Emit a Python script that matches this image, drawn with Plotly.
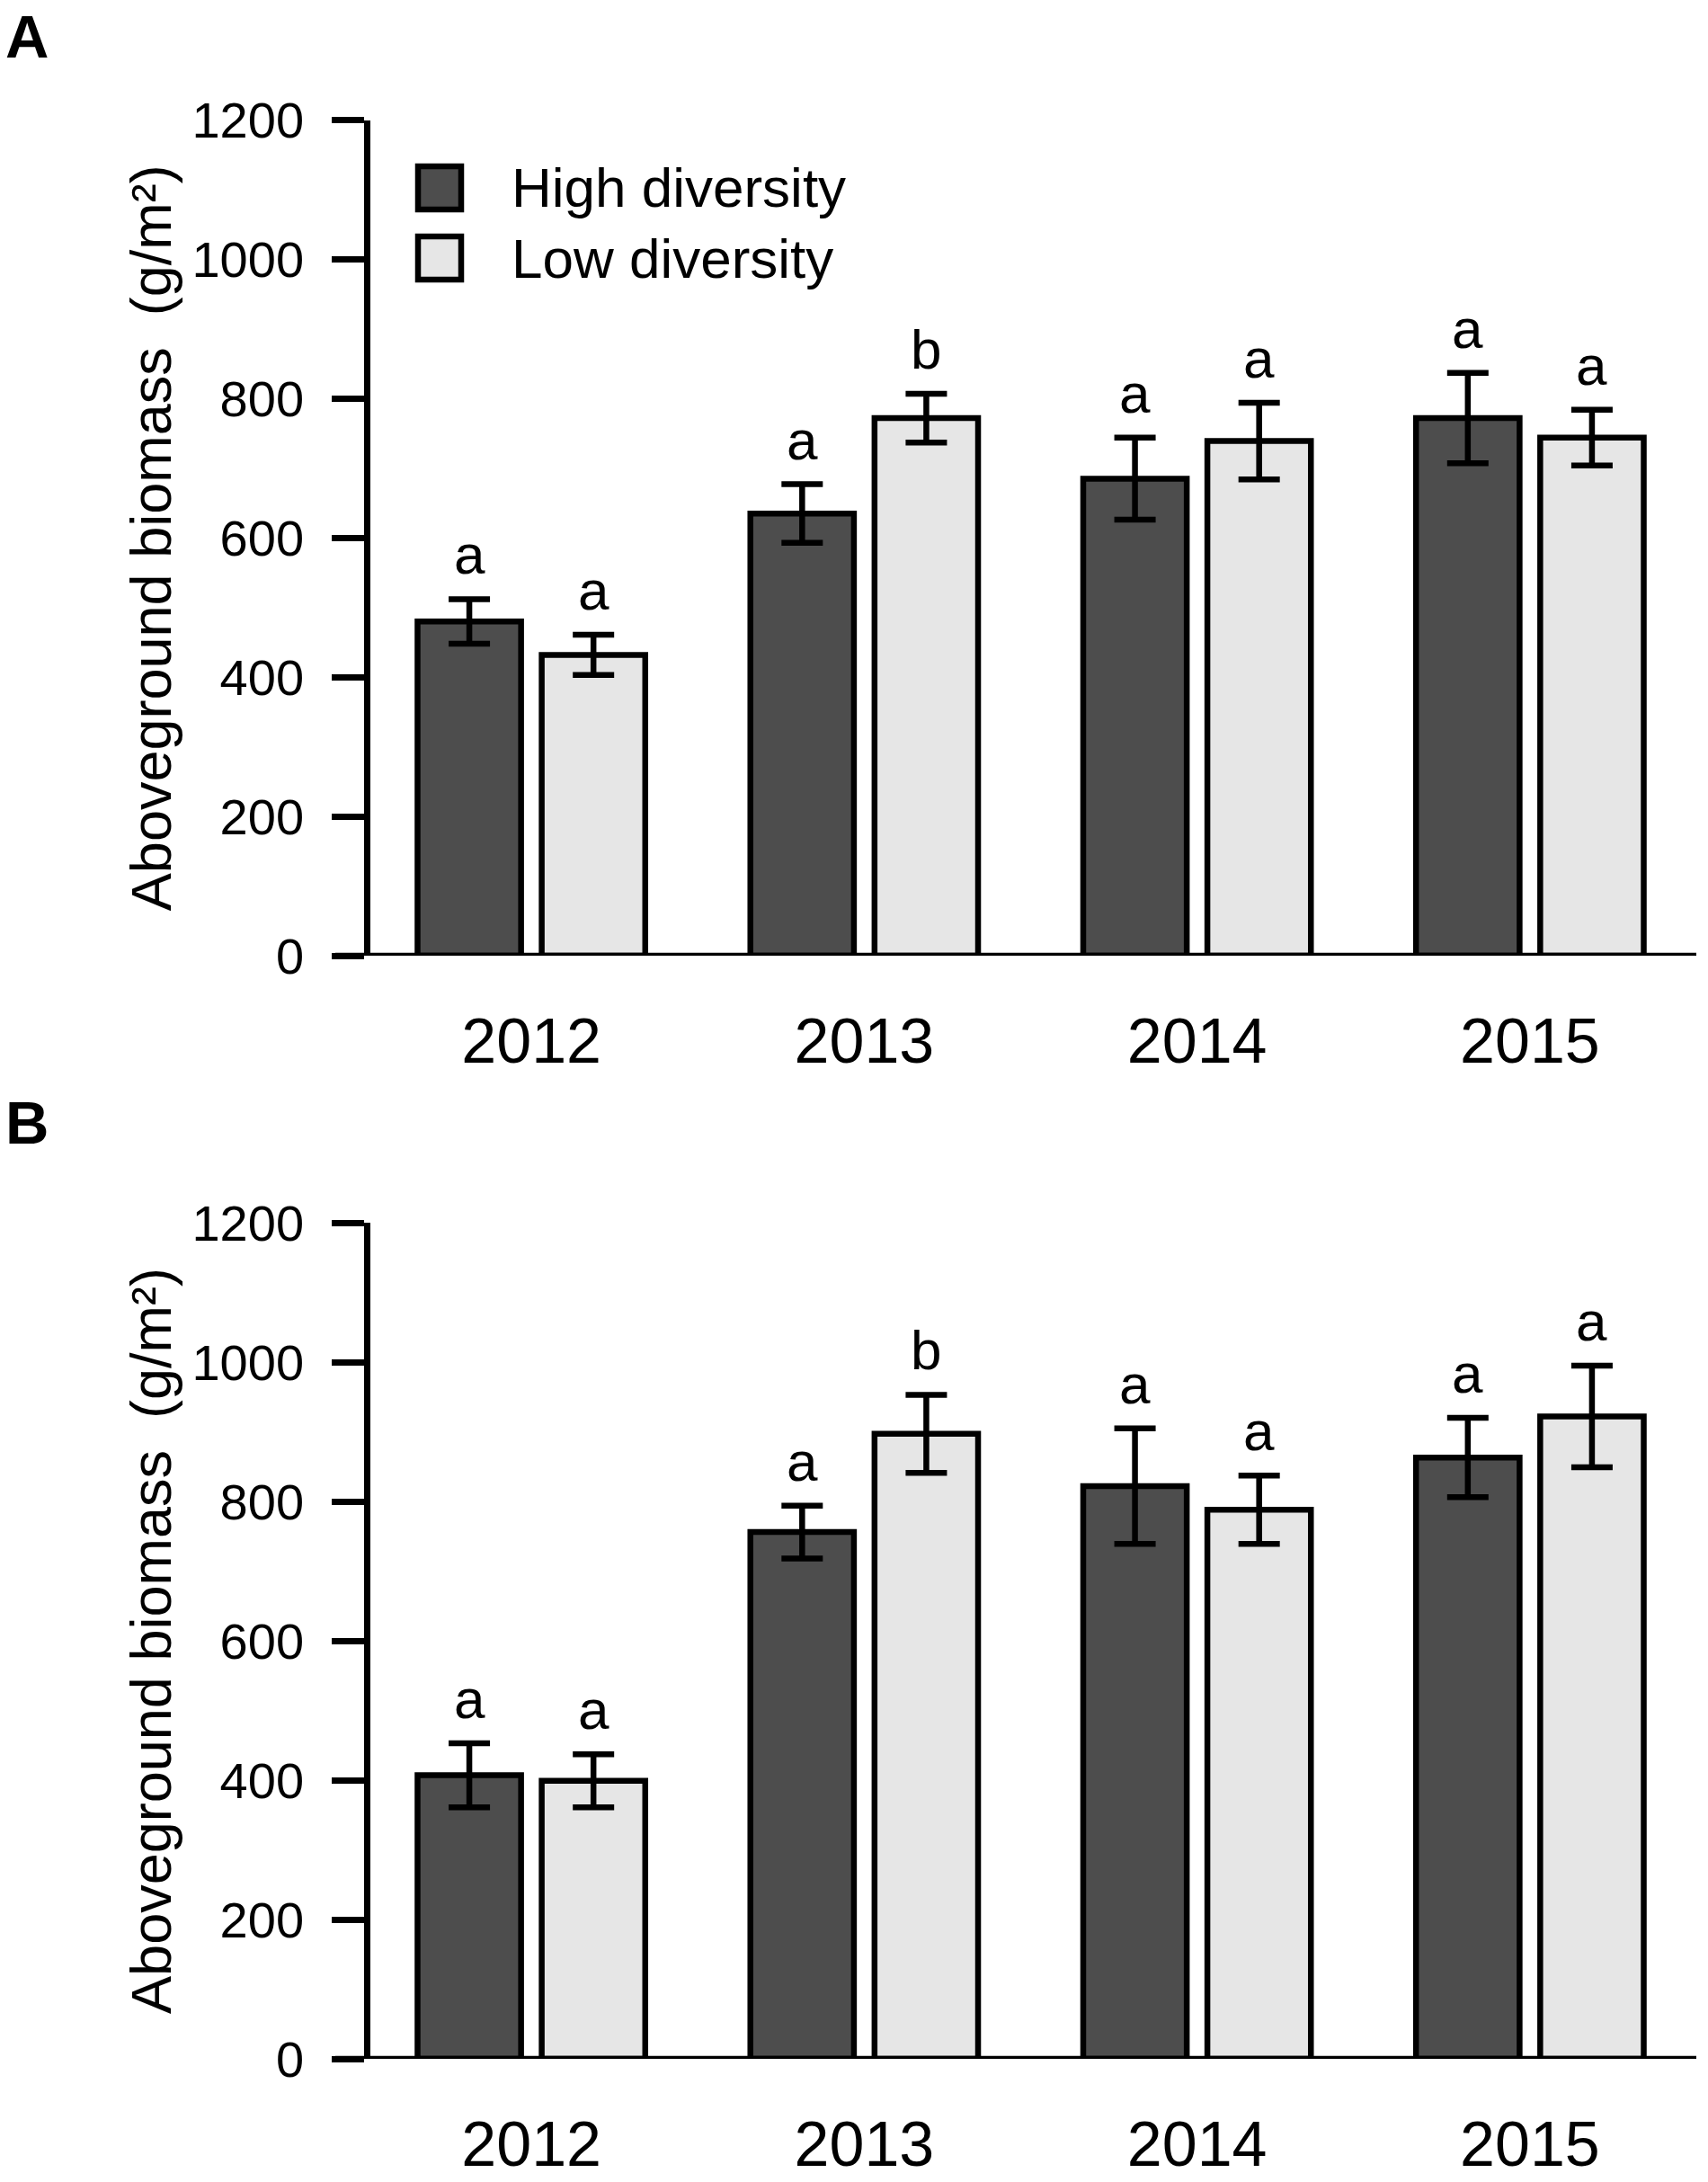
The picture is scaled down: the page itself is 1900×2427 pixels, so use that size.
import plotly.graph_objects as go

# ---------------- data ----------------
years = ["2012", "2013", "2014", "2015"]
series_names = ["High diversity", "Low diversity"]
series_colors = ["#4d4d4d", "#e6e6e6"]

# Panel A
a_high = [480, 635, 685, 772]
a_high_err = [32, 42, 59, 65]
a_low = [432, 772, 739, 744]
a_low_err = [29, 35, 55, 40]
a_high_letters = ["a", "a", "a", "a"]
a_low_letters = ["a", "b", "a", "a"]

# Panel B
b_high = [407, 756, 822, 863]
b_high_err = [46, 38, 83, 57]
b_low = [399, 897, 788, 922]
b_low_err = [38, 56, 49, 73]
b_high_letters = ["a", "a", "a", "a"]
b_low_letters = ["a", "b", "a", "a"]

y_ticks = [0, 200, 400, 600, 800, 1000, 1200]
y_title = "Aboveground biomass  (g/m²)"
panel_labels = ["A", "B"]

# ---------------- layout constants ----------------
W, H = 1900, 2427
FONT = "Liberation Sans, Arial, Helvetica, sans-serif"
LW = 6.5
BARGAP = 0.254
BARGROUPGAP = 0.166

X_LEFT, X_RIGHT = 412, 1887          # plot area in px
CAT_LEFT = 406                        # px where the category band -0.5 starts
x_dom = [X_LEFT / W, X_RIGHT / W]
px_per_cat = (X_RIGHT - CAT_LEFT) / len(years)
x_range = [-0.5 + (X_LEFT - CAT_LEFT) / px_per_cat, len(years) - 0.5]
yA_dom = [(H - 1063) / H, (H - 133.5) / H]
yB_dom = [(H - 2290) / H, (H - 1360) / H]

slot_px = (1 - BARGAP) / 2 * px_per_cat

fig = go.Figure()

panels = [
    ("x", "y", [a_high, a_low], [a_high_err, a_low_err], [a_high_letters, a_low_letters]),
    ("x2", "y2", [b_high, b_low], [b_high_err, b_low_err], [b_high_letters, b_low_letters]),
]

annotations = []
shapes = []

for p, (xr, yr, vals, errs, letters) in enumerate(panels):
    for i in range(2):
        fig.add_trace(go.Bar(
            x=years, y=vals[i], name=series_names[i],
            xaxis=xr, yaxis=yr, showlegend=False,
            marker=dict(color=series_colors[i], line=dict(color="black", width=LW)),
            error_y=dict(type="data", array=errs[i], visible=True,
                         thickness=LW, width=23, color="black"),
        ))
        for j in range(len(years)):
            annotations.append(dict(
                x=j, y=vals[i][j] + errs[i][j], xref=xr, yref=yr,
                text=letters[i][j], showarrow=False,
                xanchor="center", yanchor="bottom",
                xshift=(i - 0.5) * slot_px, yshift=13,
                font=dict(family=FONT, size=62, color="black"),
            ))
    # extended x-axis baseline
    shapes.append(dict(
        type="line", xref=f"{xr} domain", yref=yr,
        x0=(373 - X_LEFT) / (X_RIGHT - X_LEFT), x1=1, y0=0, y1=0,
        line=dict(color="black", width=LW), layer="above",
    ))

# panel labels
for p, (lab, ycen) in enumerate(zip(panel_labels, [41, 1249])):
    annotations.append(dict(
        x=30 / W, y=(H - ycen) / H, xref="paper", yref="paper",
        text=f"<b>{lab}</b>", showarrow=False, xanchor="center", yanchor="middle",
        font=dict(family=FONT, size=67, color="black"),
    ))

# manual legend (large swatches)
leg_centers = [209, 287]
for i in range(2):
    cy = leg_centers[i]
    shapes.append(dict(
        type="rect", xref="paper", yref="paper",
        x0=465 / W, x1=513 / W, y0=(H - cy - 24) / H, y1=(H - cy + 24) / H,
        fillcolor=series_colors[i], line=dict(color="black", width=LW),
    ))
    annotations.append(dict(
        x=567 / W, y=(H - cy) / H, xref="paper", yref="paper",
        text=series_names[i], showarrow=False, xanchor="left", yanchor="middle",
        font=dict(family=FONT, size=62, color="black"),
    ))

xaxis_common = dict(
    domain=x_dom, showline=False, ticks="", showgrid=False, zeroline=False,
    tickfont=dict(family=FONT, size=70, color="black"),
    ticklabelstandoff=48, range=x_range, type="category", automargin=False,
)
yaxis_common = dict(
    range=[0, 1200], tickvals=y_ticks, showline=True, linecolor="black", linewidth=LW,
    ticks="outside", ticklen=36, tickwidth=LW, tickcolor="black",
    showgrid=False, zeroline=False, automargin=False,
    tickfont=dict(family=FONT, size=56, color="black"),
    ticklabelstandoff=20,
    title=dict(text=y_title, font=dict(family=FONT, size=63, color="black"), standoff=5),
)

fig.update_layout(
    width=W, height=H,
    margin=dict(l=0, r=0, t=0, b=0, autoexpand=False),
    paper_bgcolor="white", plot_bgcolor="white",
    barmode="group", bargap=BARGAP, bargroupgap=BARGROUPGAP,
    xaxis=dict(xaxis_common, anchor="y"),
    yaxis=dict(yaxis_common, domain=yA_dom, anchor="x"),
    xaxis2=dict(xaxis_common, anchor="y2"),
    yaxis2=dict(yaxis_common, domain=yB_dom, anchor="x2"),
    annotations=annotations,
    shapes=shapes,
    showlegend=False,
)

fig.write_html(
    "out.html",
    config={"displayModeBar": False},
    post_script="document.body.style.margin='0';document.body.style.padding='0';"
                "document.body.style.overflow='hidden';",
)
